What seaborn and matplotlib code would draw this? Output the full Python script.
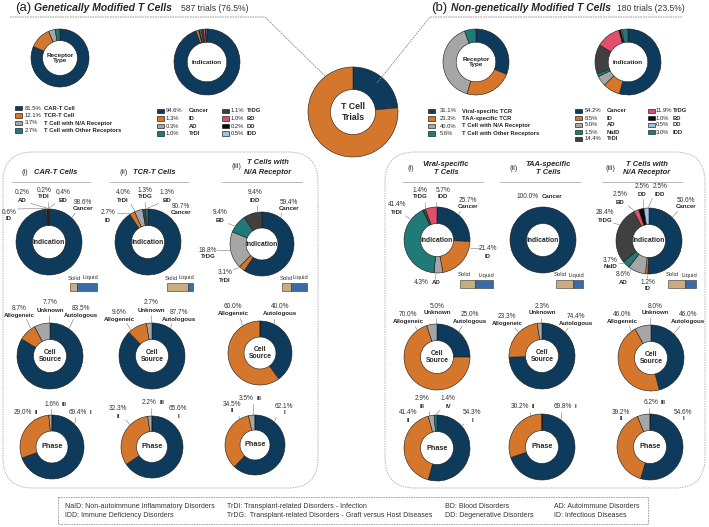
import numpy as np
import matplotlib
matplotlib.use('Agg')
import matplotlib.pyplot as plt
from matplotlib.patches import Rectangle, FancyBboxPatch
import seaborn as sns

# ---------------- data ----------------
overall_names = ['Non-genetically Modified', 'Genetically Modified']
overall_pct = [23.5, 76.5]

gm_receptor_names = ['CAR-T Cell', 'TCR-T Cell', 'T Cell with N/A Receptor', 'T Cell with Other Receptors']
gm_receptor_pct = [81.5, 12.1, 3.7, 2.7]
gm_ind_names = ['Cancer', 'ID', 'AD', 'TrDI', 'TrDG', 'BD', 'DD', 'IDD']
gm_ind_pct = [94.6, 1.3, 0.3, 1.0, 1.1, 1.0, 0.2, 0.5]

ngm_receptor_names = ['Viral-specific TCR', 'TAA-specific TCR', 'T Cell with N/A Receptor', 'T Cell with Other Receptors']
ngm_receptor_pct = [31.1, 23.3, 40.0, 5.6]
ngm_ind_names = ['Cancer', 'ID', 'AD', 'NaID', 'TrDI', 'TrDG', 'BD', 'DD', 'IDD']
ngm_ind_pct = [54.2, 8.5, 5.0, 1.5, 14.4, 11.9, 1.0, 0.5, 3.0]

# sub panels: indication
car_ind_names = ['Cancer', 'ID', 'AD', 'TrDI', 'BD']
car_ind_pct = [98.6, 0.6, 0.2, 0.2, 0.4]
tcr_ind_names = ['Cancer', 'ID', 'TrDI', 'TrDG', 'BD']
tcr_ind_pct = [90.7, 2.7, 4.0, 1.3, 1.3]
na_ind_names = ['Cancer', 'TrDI', 'TrDG', 'BD', 'IDD']
na_ind_pct = [59.4, 3.1, 18.8, 9.4, 9.4]
viral_ind_names = ['Cancer', 'ID', 'AD', 'TrDI', 'TrDG', 'IDD']
viral_ind_pct = [25.7, 21.4, 4.3, 41.4, 1.4, 5.7]
taa_ind_names = ['Cancer']
taa_ind_pct = [100.0]
nab_ind_names = ['Cancer', 'ID', 'AD', 'NaID', 'TrDG', 'BD', 'DD', 'IDD']
nab_ind_pct = [50.6, 1.2, 8.6, 3.7, 28.4, 2.5, 2.5, 2.5]

# solid / liquid share (fraction solid)
solid_share = [0.27, 0.79, 0.35, 0.46, 0.64, 0.60]

# cell source
source_names = ['Autologous', 'Allogeneic', 'Unknown']
car_src = [83.5, 8.7, 7.7]
tcr_src = [87.7, 9.6, 2.7]
na_src = [40.0, 60.0, 0.0]
viral_src = [25.0, 70.0, 5.0]
taa_src = [74.4, 23.3, 2.3]
nab_src = [46.0, 46.0, 8.0]

# phase
phase_names = ['I', 'II', 'III', 'IV']
car_phase = [69.4, 29.0, 1.6, 0.0]
tcr_phase = [65.6, 32.3, 2.2, 0.0]
na_phase = [62.1, 34.5, 3.5, 0.0]
viral_phase = [54.3, 41.4, 2.9, 1.4]
taa_phase = [69.8, 30.2, 0.0, 0.0]
nab_phase = [54.6, 39.2, 6.2, 0.0]

abbrev = [
    ('NaID: Non-autoimmune Inflammatory Disorders', 'IDD: Immune Deficiency Disorders'),
    ('TrDI: Transplant-related Disorders - Infection', 'TrDG:  Transplant-related Disorders - Graft versus Host Diseases'),
    ('BD: Blood Disorders', 'DD: Degenerative Disorders'),
    ('AD: Autoimmune Disorders', 'ID: Infectious Diseases'),
]

# ---------------- style ----------------
sns.set_theme(style='white')
plt.rcParams['font.family'] = ['Liberation Sans', 'DejaVu Sans']

pal = sns.color_palette(['#0e3a5c', '#d4762c', '#a6a6a6', '#1f7a78', '#404040',
                         '#e0506b', '#0a0a0a', '#9dc3e6'])
NAVY, ORANGE, GRAY, TEAL, DGRAY, PINK, BLACK, LBLUE = pal
TAN, LIQ = '#c9ad7e', '#3b6aa8'
FP = 4.7      # percent labels around donuts
FS = 4.4      # names around donuts
FL = 4.2      # legends
W, H = 709, 527

fig = plt.figure(figsize=(W / 100, H / 100), dpi=100)
ax = fig.add_axes([0, 0, 1, 1])


def donut(cx, cy, r, values, colors, text, hole=0.5, fs=4.9):
    wedges, _ = ax.pie(values, colors=colors, radius=r, center=(cx, cy),
                       startangle=-90, counterclock=True, frame=True,
                       wedgeprops=dict(width=r * (1 - hole), edgecolor='#1a1a1a', linewidth=0.4))
    ax.text(cx, cy, text, ha='center', va='center', fontsize=fs,
            weight='bold', linespacing=1.15)
    return wedges


def leader(w, cx, cy, r, box):
    x0, x1, y0, y1 = box
    lx, ly = (x0 + x1) / 2, (y0 + y1) / 2
    phi = np.degrees(np.arctan2(ly - cy, lx - cx))
    t1, t2 = w.theta1, w.theta2
    p = t1 + (phi - t1) % 360
    if p > t2:
        p = t2 if (p - t2) < (t1 + 360 - p) else t1
    pad = min(1.0, (t2 - t1) / 2)
    p = np.clip(p, t1 + pad, t2 - pad)
    a = np.radians(p)
    sx, sy = cx + (r + 0.8) * np.cos(a), cy + (r + 0.8) * np.sin(a)
    ex, ey = np.clip(sx, x0, x1), np.clip(sy, y0, y1)
    d = np.hypot(ex - sx, ey - sy)
    if d < 3:
        return
    ex, ey = ex - (ex - sx) / d * 1.5, ey - (ey - sy) / d * 1.5
    ax.plot([sx, ex], [sy, ey], color='#777777', lw=0.4)


def tag(wedges, cx, cy, r, names, values, spots):
    for name, (x, y, mode) in spots.items():
        i = names.index(name)
        pct = f'{values[i]:.1f}%'
        if mode == 's':
            ax.text(x, y, pct, ha='center', va='center', fontsize=FP, color='#333333')
            ax.text(x, y + 7, name, ha='center', va='center', fontsize=FS, weight='bold')
            box = (x - 7, x + 7, y - 3, y + 10)
        else:
            ax.text(x - 1, y, pct, ha='right', va='center', fontsize=FP, color='#333333')
            ax.text(x + 1.5, y, name, ha='left', va='center', fontsize=FS, weight='bold')
            box = (x - 12, x + 6, y - 3, y + 3)
        if values[i] < 100:
            leader(wedges[i], cx, cy, r, box)


def legend_block(x_sw, x_pct, x_name, y0, names, values, colors, dy=7.5):
    for k, (n, v, c) in enumerate(zip(names, values, colors)):
        y = y0 + k * dy
        ax.add_patch(Rectangle((x_sw, y - 2.3), 7, 4.6, facecolor=c, edgecolor='black', lw=0.4))
        ax.text(x_pct, y, f'{v:.1f}%', ha='left', va='center', fontsize=FL, color='#222222')
        ax.text(x_name, y, n, ha='left', va='center', fontsize=FL, weight='bold')


def solid_bar(x0, x1, y, share):
    L = x1 - x0
    ax.barh(y, share * L, left=x0, height=8, color=TAN, edgecolor='#333333', lw=0.4)
    ax.barh(y, (1 - share) * L, left=x0 + share * L, height=8, color=LIQ, edgecolor='#333333', lw=0.4)
    ax.text(x0 - 2, y - 9, 'Solid', ha='left', va='center', fontsize=4.2, color='#333333')
    ax.text(x1 + 1, y - 9, 'Liquid', ha='right', va='center', fontsize=4.2, color='#333333')


# ---------------- titles & connector lines ----------------
ax.text(15, 8, '(a)', fontsize=9.5, ha='left', va='center', color='#222222')
ax.text(34, 8, 'Genetically Modified T Cells', fontsize=7.5, weight='bold', style='italic',
        ha='left', va='center')
ax.text(181, 8.5, '587 trials (76.5%)', fontsize=6.2, ha='left', va='center', color='#333333')
ax.text(431, 8, '(b)', fontsize=9.5, ha='left', va='center', color='#222222')
ax.text(451, 8, 'Non-genetically Modified T Cells', fontsize=7.5, weight='bold', style='italic',
        ha='left', va='center')
ax.text(617, 8.5, '180 trials (23.5%)', fontsize=6.2, ha='left', va='center', color='#333333')

ax.plot([10, 265, 332], [17, 17, 83], color='#888888', lw=0.6, ls=(0, (2, 1)), zorder=5)
ax.plot([682, 430, 377], [17, 17, 83], color='#888888', lw=0.6, ls=(0, (2, 1)), zorder=5)

# ---------------- top row ----------------
donut(353, 112, 45, overall_pct, [NAVY, ORANGE], 'T Cell\nTrials', hole=0.5, fs=6.3)

donut(60, 58, 29, gm_receptor_pct, [NAVY, ORANGE, GRAY, TEAL], 'Receptor\nType', hole=0.6, fs=4.6)
legend_block(15, 25, 44, 108, gm_receptor_names, gm_receptor_pct, [NAVY, ORANGE, GRAY, TEAL])

gm_ind_colors = [NAVY, ORANGE, GRAY, TEAL, DGRAY, PINK, BLACK, LBLUE]
donut(207, 62, 33, gm_ind_pct, gm_ind_colors, 'Indication', hole=0.6, fs=4.6)
legend_block(157, 166, 189, 111, gm_ind_names[:4], gm_ind_pct[:4], gm_ind_colors[:4])
legend_block(222, 231, 247, 111, gm_ind_names[4:], gm_ind_pct[4:], gm_ind_colors[4:])

donut(476, 62, 33, ngm_receptor_pct, [NAVY, ORANGE, GRAY, TEAL], 'Receptor\nType', hole=0.6, fs=4.6)
legend_block(428, 440, 462, 111, ngm_receptor_names, ngm_receptor_pct, [NAVY, ORANGE, GRAY, TEAL])

ngm_ind_colors = [NAVY, ORANGE, GRAY, TEAL, DGRAY, PINK, BLACK, LBLUE, TEAL]
donut(628, 62, 33, ngm_ind_pct, ngm_ind_colors, 'Indication', hole=0.6, fs=4.6)
legend_block(575, 585, 607, 111, ngm_ind_names[:5], ngm_ind_pct[:5], ngm_ind_colors[:5], dy=7)
legend_block(648, 656, 673, 111, ngm_ind_names[5:], ngm_ind_pct[5:], ngm_ind_colors[5:], dy=7)

# ---------------- rounded boxes ----------------
for x0, x1 in [(3, 318), (385, 705)]:
    ax.add_patch(FancyBboxPatch((x0, 152), x1 - x0, 336, boxstyle='round,pad=0,rounding_size=30',
                                facecolor='none', edgecolor='#b5b5b5', lw=0.7, ls=(0, (1.5, 1))))


# column headers
def header(x_roman, roman, x_text, lines, y_roman):
    ax.text(x_roman, y_roman, roman, fontsize=5.3, ha='left', va='center', color='#333333')
    for t, y in lines:
        ax.text(x_text, y, t, fontsize=5.4, weight='bold', style='italic', ha='center', va='center')


header(22, '(i)', 56, [('CAR-T Cells', 172)], 172)
header(120, '(ii)', 154, [('TCR-T Cells', 172)], 172)
header(231, '(iii)', 268, [('T Cells with', 163), ('N/A Receptor', 173)], 167)
header(408, '(i)', 446, [('Viral-specific', 164), ('T Cells', 173)], 169)
header(509, '(ii)', 548, [('TAA-specific', 164), ('T Cells', 173)], 169)
header(606, '(iii)', 647, [('T Cells with', 164), ('N/A Receptor', 173)], 169)
for x0, x1 in [(12, 90), (110, 188), (222, 302), (403, 483), (500, 580), (602, 682)]:
    ax.plot([x0, x1], [182, 182], color='#aaaaaa', lw=0.6)

# ---------------- indication row ----------------
w = donut(49, 242, 33, car_ind_pct, [NAVY, ORANGE, GRAY, TEAL, PINK], 'Indication')
tag(w, 49, 242, 33, car_ind_names, car_ind_pct,
    {'Cancer': (83, 202, 's'), 'ID': (9, 212, 's'), 'AD': (22, 193, 's'),
     'TrDI': (44, 190, 's'), 'BD': (63, 193, 's')})
solid_bar(70, 97, 287, solid_share[0])

w = donut(148, 242, 33, tcr_ind_pct, [NAVY, ORANGE, GRAY, DGRAY, TEAL], 'Indication')
tag(w, 148, 242, 33, tcr_ind_names, tcr_ind_pct,
    {'Cancer': (181, 206, 's'), 'ID': (108, 213, 's'), 'TrDI': (123, 193, 's'),
     'TrDG': (145, 190, 's'), 'BD': (167, 193, 's')})
solid_bar(167, 193, 287, solid_share[1])

w = donut(262, 244, 32, na_ind_pct, [NAVY, ORANGE, GRAY, TEAL, DGRAY], 'Indication')
tag(w, 262, 244, 32, na_ind_names, na_ind_pct,
    {'Cancer': (289, 202, 's'), 'TrDI': (225, 273, 's'), 'TrDG': (208, 250, 's'),
     'BD': (220, 213, 's'), 'IDD': (255, 193, 's')})
solid_bar(282, 307, 287, solid_share[2])

w = donut(437, 240, 33, viral_ind_pct, [NAVY, ORANGE, GRAY, TEAL, DGRAY, PINK], 'Indication')
tag(w, 437, 240, 33, viral_ind_names, viral_ind_pct,
    {'Cancer': (468, 200, 's'), 'ID': (488, 249, 's'), 'AD': (430, 283, 'i'),
     'TrDI': (397, 205, 's'), 'TrDG': (420, 190, 's'), 'IDD': (443, 190, 's')})
solid_bar(460, 493, 284, solid_share[3])

w = donut(543, 240, 33, taa_ind_pct, [NAVY], 'Indication')
tag(w, 543, 240, 33, taa_ind_names, taa_ind_pct, {'Cancer': (540, 197, 'i')})
solid_bar(556, 583, 284, solid_share[4])

w = donut(649, 241, 33, nab_ind_pct, [NAVY, ORANGE, GRAY, TEAL, DGRAY, PINK, BLACK, LBLUE], 'Indication')
tag(w, 649, 241, 33, nab_ind_names, nab_ind_pct,
    {'Cancer': (686, 200, 's'), 'ID': (648, 282, 's'), 'AD': (623, 275, 's'),
     'NaID': (610, 260, 's'), 'TrDG': (605, 213, 's'), 'BD': (620, 195, 's'),
     'DD': (642, 187, 's'), 'IDD': (660, 187, 's')})
solid_bar(668, 696, 284, solid_share[5])

# ---------------- cell source row ----------------
src_colors = [NAVY, ORANGE, GRAY]
src_rows = [
    (50, 356, 33, car_src, {'Unknown': (50, 303, 's'), 'Allogeneic': (19, 308, 's'), 'Autologous': (81, 308, 's')}),
    (152, 356, 33, tcr_src, {'Unknown': (151, 303, 's'), 'Allogeneic': (119, 312, 's'), 'Autologous': (179, 312, 's')}),
    (260, 353, 32, na_src, {'Allogeneic': (233, 307, 's'), 'Autologous': (280, 307, 's')}),
    (437, 357, 33, viral_src, {'Unknown': (437, 306, 's'), 'Allogeneic': (408, 315, 's'), 'Autologous': (470, 315, 's')}),
    (542, 356, 33, taa_src, {'Unknown': (542, 306, 's'), 'Allogeneic': (507, 317, 's'), 'Autologous': (576, 317, 's')}),
    (651, 358, 33, nab_src, {'Unknown': (655, 306, 's'), 'Allogeneic': (622, 315, 's'), 'Autologous': (688, 315, 's')}),
]
for cx, cy, r, vals, spots in src_rows:
    w = donut(cx, cy, r, vals, src_colors, 'Cell\nSource')
    tag(w, cx, cy, r, source_names, vals, spots)

# ---------------- phase row ----------------
ph_colors = [NAVY, ORANGE, GRAY, TEAL]
ph_rows = [
    (52, 447, 32, car_phase, {'III': (60, 404, 'i'), 'II': (33, 413, 'i'), 'I': (88, 413, 'i')}),
    (152, 447, 31, tcr_phase, {'III': (158, 403, 'i'), 'II': (118, 409, 's'), 'I': (178, 409, 's')}),
    (255, 445, 30, na_phase, {'III': (255, 399, 'i'), 'II': (232, 404, 's'), 'I': (284, 406, 's')}),
    (437, 448, 33, viral_phase, {'III': (422, 399, 's'), 'IV': (448, 399, 's'), 'II': (408, 413, 's'), 'I': (472, 413, 's')}),
    (542, 447, 33, taa_phase, {'II': (530, 407, 'i'), 'I': (573, 407, 'i')}),
    (650, 447, 33, nab_phase, {'III': (659, 403, 'i'), 'II': (621, 412, 's'), 'I': (683, 412, 's')}),
]
for cx, cy, r, vals, spots in ph_rows:
    w = donut(cx, cy, r, vals, ph_colors, 'Phase', fs=5.2)
    tag(w, cx, cy, r, phase_names, vals, spots)

# ---------------- abbreviation box ----------------
ax.add_patch(Rectangle((58, 497), 590, 27, facecolor='none', edgecolor='#999999', lw=0.6, ls=(0, (2, 1))))
for x, (l1, l2) in zip([65, 227, 445, 554], abbrev):
    ax.text(x, 506.5, l1, fontsize=5, ha='left', va='center', color='#333333')
    ax.text(x, 515.5, l2, fontsize=5, ha='left', va='center', color='#333333')

ax.set_xlim(0, W)
ax.set_ylim(H, 0)
ax.set_aspect('auto')
ax.axis('off')
fig.savefig('out.png', dpi=100, facecolor='white')
